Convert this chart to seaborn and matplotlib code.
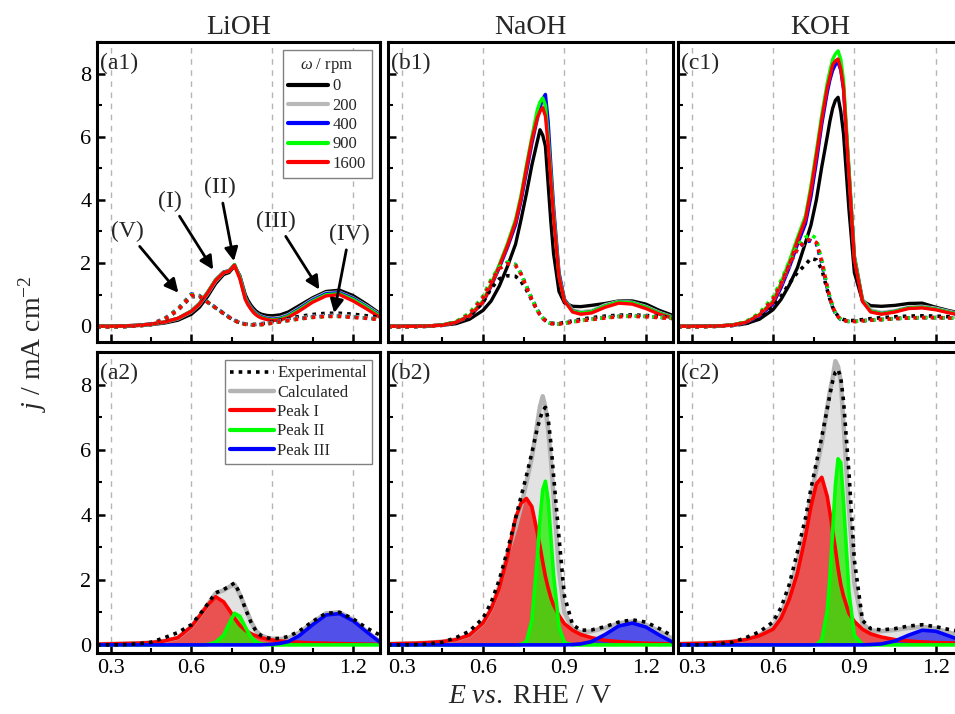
import numpy as np
import pandas as pd
import matplotlib
matplotlib.use("Agg")
from matplotlib import pyplot as plt
from matplotlib.lines import Line2D
from matplotlib.ticker import MultipleLocator, FormatStrFormatter
import seaborn as sns

# potential grid (V vs. RHE), shared by every curve
E = [0.25, 0.30, 0.35, 0.40, 0.45, 0.50, 0.55, 0.60, 0.63, 0.66, 0.69, 0.72, 0.74, 0.76, 0.78,
     0.80, 0.81, 0.82, 0.83, 0.84, 0.85, 0.86, 0.88, 0.90, 0.93, 0.96, 1.00, 1.05, 1.10, 1.15,
     1.20, 1.25, 1.30]

rpm_labels = ["0", "200", "400", "900", "1600"]
rpm_colors = ["black", "#b9b9b9", "#0000ff", "#00ff00", "#ff0000"]

# ---- LiOH, solid curves
li_0 = [0.00, 0.00, 0.00, 0.02, 0.05, 0.10, 0.19, 0.38, 0.60, 0.94, 1.35, 1.64, 1.70, 1.90, 1.60, 1.00, 0.82, 0.68, 0.57, 0.48, 0.42, 0.38, 0.34, 0.33, 0.36, 0.45, 0.65, 0.90, 1.10, 1.14, 0.97, 0.70, 0.40]
li_200 = [0.00, 0.00, 0.01, 0.03, 0.06, 0.12, 0.23, 0.45, 0.68, 1.02, 1.42, 1.69, 1.74, 1.93, 1.57, 0.92, 0.74, 0.61, 0.50, 0.42, 0.36, 0.32, 0.27, 0.25, 0.28, 0.37, 0.58, 0.86, 1.06, 1.08, 0.90, 0.65, 0.37]
li_400 = [0.00, 0.00, 0.01, 0.03, 0.07, 0.13, 0.25, 0.48, 0.72, 1.07, 1.47, 1.72, 1.76, 1.95, 1.56, 0.90, 0.72, 0.59, 0.48, 0.40, 0.34, 0.30, 0.25, 0.22, 0.25, 0.34, 0.55, 0.83, 1.03, 1.06, 0.88, 0.62, 0.34]
li_900 = [0.00, 0.00, 0.01, 0.03, 0.07, 0.13, 0.25, 0.48, 0.72, 1.07, 1.47, 1.71, 1.75, 1.95, 1.55, 0.88, 0.70, 0.57, 0.46, 0.38, 0.32, 0.28, 0.23, 0.20, 0.23, 0.32, 0.52, 0.80, 1.00, 1.03, 0.85, 0.60, 0.32]
li_1600 = [0.00, 0.00, 0.01, 0.03, 0.07, 0.13, 0.25, 0.47, 0.70, 1.05, 1.45, 1.70, 1.74, 1.93, 1.50, 0.85, 0.68, 0.55, 0.44, 0.36, 0.30, 0.26, 0.21, 0.18, 0.20, 0.28, 0.48, 0.76, 0.96, 1.00, 0.80, 0.55, 0.28]
# ---- LiOH, dotted curves
li_0_d = [-0.02, -0.02, -0.01, 0.01, 0.05, 0.20, 0.50, 0.94, 0.93, 0.76, 0.58, 0.40, 0.28, 0.18, 0.11, 0.07, 0.06, 0.06, 0.06, 0.06, 0.07, 0.08, 0.10, 0.14, 0.19, 0.24, 0.31, 0.37, 0.41, 0.41, 0.38, 0.33, 0.28]
li_200_d = [-0.02, -0.02, -0.01, 0.01, 0.06, 0.22, 0.52, 0.97, 0.95, 0.76, 0.58, 0.41, 0.29, 0.19, 0.11, 0.07, 0.06, 0.05, 0.05, 0.05, 0.06, 0.06, 0.08, 0.12, 0.16, 0.21, 0.26, 0.31, 0.34, 0.34, 0.31, 0.27, 0.23]
li_400_d = [-0.02, -0.02, -0.01, 0.01, 0.07, 0.24, 0.55, 1.02, 0.97, 0.77, 0.59, 0.41, 0.29, 0.19, 0.11, 0.07, 0.05, 0.05, 0.04, 0.05, 0.05, 0.06, 0.08, 0.11, 0.15, 0.19, 0.24, 0.29, 0.32, 0.32, 0.29, 0.26, 0.22]
li_900_d = [-0.02, -0.02, -0.01, 0.01, 0.06, 0.23, 0.54, 1.00, 0.96, 0.77, 0.58, 0.40, 0.28, 0.18, 0.10, 0.06, 0.05, 0.04, 0.04, 0.04, 0.05, 0.05, 0.07, 0.10, 0.14, 0.18, 0.23, 0.28, 0.31, 0.31, 0.29, 0.25, 0.22]
li_1600_d = [-0.02, -0.02, -0.01, 0.01, 0.06, 0.22, 0.52, 0.98, 0.95, 0.76, 0.58, 0.40, 0.28, 0.18, 0.10, 0.06, 0.05, 0.04, 0.04, 0.04, 0.04, 0.05, 0.07, 0.10, 0.14, 0.18, 0.23, 0.28, 0.31, 0.31, 0.28, 0.25, 0.21]

# ---- NaOH, solid curves
na_0 = [0.00, 0.00, 0.00, 0.01, 0.03, 0.08, 0.22, 0.50, 0.80, 1.27, 1.89, 2.60, 3.37, 4.20, 5.10, 5.85, 6.22, 6.05, 5.70, 4.50, 3.30, 2.30, 1.10, 0.74, 0.63, 0.62, 0.66, 0.72, 0.80, 0.80, 0.70, 0.50, 0.34]
na_200 = [0.00, 0.00, 0.00, 0.01, 0.04, 0.12, 0.31, 0.74, 1.26, 1.84, 2.48, 3.20, 3.95, 4.85, 5.75, 6.50, 6.85, 7.05, 7.00, 6.10, 4.80, 3.60, 1.65, 0.85, 0.52, 0.46, 0.50, 0.68, 0.79, 0.76, 0.63, 0.44, 0.29]
na_400 = [0.00, 0.00, 0.00, 0.01, 0.04, 0.12, 0.32, 0.76, 1.28, 1.86, 2.50, 3.22, 3.98, 4.90, 5.80, 6.60, 6.95, 7.20, 7.34, 6.50, 5.10, 3.80, 1.70, 0.85, 0.49, 0.42, 0.46, 0.64, 0.77, 0.74, 0.60, 0.41, 0.27]
na_900 = [0.00, 0.00, 0.00, 0.01, 0.04, 0.13, 0.34, 0.80, 1.35, 1.95, 2.62, 3.38, 4.15, 5.10, 6.00, 6.85, 7.10, 7.23, 7.00, 6.00, 4.80, 3.60, 1.60, 0.82, 0.48, 0.42, 0.46, 0.64, 0.77, 0.74, 0.60, 0.41, 0.27]
na_1600 = [0.00, 0.00, 0.00, 0.01, 0.04, 0.12, 0.32, 0.76, 1.30, 1.90, 2.55, 3.30, 4.05, 5.00, 5.90, 6.60, 6.80, 6.92, 6.65, 5.75, 4.60, 3.45, 1.55, 0.80, 0.45, 0.38, 0.42, 0.60, 0.73, 0.70, 0.56, 0.38, 0.25]
# ---- NaOH, dotted curves
na_0_d = [-0.02, -0.02, -0.01, 0.00, 0.03, 0.10, 0.32, 0.75, 1.20, 1.50, 1.60, 1.58, 1.42, 1.15, 0.82, 0.50, 0.37, 0.27, 0.19, 0.14, 0.11, 0.09, 0.09, 0.12, 0.17, 0.22, 0.27, 0.32, 0.35, 0.36, 0.34, 0.31, 0.28]
na_200_d = [-0.02, -0.02, -0.01, 0.00, 0.03, 0.12, 0.38, 0.90, 1.43, 1.84, 2.00, 1.94, 1.66, 1.26, 0.86, 0.51, 0.37, 0.26, 0.18, 0.13, 0.10, 0.08, 0.08, 0.11, 0.15, 0.19, 0.23, 0.28, 0.32, 0.33, 0.32, 0.29, 0.26]
na_400_d = [-0.02, -0.02, -0.01, 0.00, 0.04, 0.13, 0.40, 0.93, 1.46, 1.87, 2.02, 1.95, 1.67, 1.27, 0.87, 0.52, 0.37, 0.26, 0.18, 0.12, 0.09, 0.07, 0.07, 0.10, 0.14, 0.18, 0.22, 0.27, 0.31, 0.32, 0.31, 0.28, 0.25]
na_900_d = [-0.02, -0.02, -0.01, 0.00, 0.04, 0.14, 0.42, 0.95, 1.48, 1.88, 2.03, 1.95, 1.66, 1.26, 0.86, 0.51, 0.37, 0.26, 0.18, 0.12, 0.09, 0.07, 0.07, 0.10, 0.14, 0.18, 0.22, 0.27, 0.31, 0.32, 0.31, 0.28, 0.25]
na_1600_d = [-0.02, -0.02, -0.01, 0.00, 0.03, 0.12, 0.38, 0.90, 1.42, 1.82, 1.98, 1.92, 1.65, 1.25, 0.85, 0.50, 0.36, 0.25, 0.17, 0.12, 0.09, 0.07, 0.07, 0.09, 0.13, 0.17, 0.21, 0.26, 0.30, 0.31, 0.30, 0.27, 0.24]

# ---- KOH, solid curves
k_0 = [0.00, 0.00, 0.00, 0.01, 0.03, 0.08, 0.22, 0.52, 0.85, 1.30, 1.85, 2.65, 3.20, 4.00, 5.05, 6.00, 6.50, 6.90, 7.15, 7.25, 6.80, 6.10, 3.70, 1.70, 0.80, 0.65, 0.63, 0.66, 0.72, 0.73, 0.60, 0.49, 0.40]
k_200 = [0.00, 0.00, 0.00, 0.01, 0.04, 0.12, 0.34, 0.73, 1.27, 1.92, 2.65, 3.35, 4.22, 5.30, 6.48, 7.50, 7.88, 8.22, 8.38, 8.45, 8.20, 7.60, 4.95, 2.25, 0.86, 0.52, 0.44, 0.50, 0.61, 0.63, 0.57, 0.47, 0.37]
k_400 = [0.00, 0.00, 0.00, 0.01, 0.04, 0.11, 0.32, 0.70, 1.22, 1.85, 2.58, 3.25, 4.10, 5.20, 6.40, 7.40, 7.80, 8.10, 8.28, 8.36, 8.10, 7.50, 4.90, 2.20, 0.82, 0.48, 0.40, 0.47, 0.58, 0.60, 0.54, 0.44, 0.35]
k_900 = [0.00, 0.00, 0.00, 0.01, 0.04, 0.13, 0.37, 0.80, 1.38, 2.05, 2.80, 3.50, 4.45, 5.55, 6.70, 7.70, 8.10, 8.45, 8.62, 8.72, 8.45, 7.80, 5.00, 2.20, 0.82, 0.48, 0.40, 0.47, 0.58, 0.60, 0.54, 0.44, 0.35]
k_1600 = [0.00, 0.00, 0.00, 0.01, 0.04, 0.12, 0.35, 0.75, 1.30, 1.95, 2.70, 3.40, 4.30, 5.40, 6.55, 7.55, 7.90, 8.28, 8.40, 8.46, 8.15, 7.55, 4.80, 2.10, 0.78, 0.45, 0.38, 0.45, 0.56, 0.58, 0.52, 0.42, 0.33]
# ---- KOH, dotted curves
k_0_d = [-0.02, -0.02, -0.01, 0.00, 0.02, 0.08, 0.26, 0.60, 0.95, 1.35, 1.70, 1.95, 2.15, 2.10, 1.80, 1.15, 0.85, 0.60, 0.43, 0.32, 0.25, 0.21, 0.18, 0.18, 0.21, 0.24, 0.27, 0.30, 0.32, 0.33, 0.32, 0.30, 0.28]
k_200_d = [-0.02, -0.02, -0.01, 0.00, 0.03, 0.12, 0.37, 0.84, 1.33, 1.92, 2.42, 2.66, 2.72, 2.62, 2.02, 1.24, 0.90, 0.62, 0.43, 0.31, 0.23, 0.19, 0.16, 0.16, 0.18, 0.20, 0.22, 0.25, 0.27, 0.28, 0.28, 0.27, 0.26]
k_400_d = [-0.02, -0.02, -0.01, 0.00, 0.03, 0.12, 0.38, 0.86, 1.36, 1.95, 2.45, 2.68, 2.70, 2.62, 2.00, 1.22, 0.88, 0.60, 0.41, 0.29, 0.21, 0.17, 0.15, 0.15, 0.17, 0.19, 0.21, 0.24, 0.26, 0.27, 0.27, 0.26, 0.25]
k_900_d = [-0.02, -0.02, -0.01, 0.00, 0.04, 0.14, 0.42, 0.92, 1.45, 2.05, 2.55, 2.82, 2.90, 2.78, 2.10, 1.28, 0.92, 0.63, 0.43, 0.30, 0.22, 0.18, 0.15, 0.15, 0.17, 0.19, 0.21, 0.24, 0.26, 0.27, 0.27, 0.26, 0.25]
k_1600_d = [-0.02, -0.02, -0.01, 0.00, 0.03, 0.12, 0.38, 0.85, 1.35, 1.95, 2.45, 2.70, 2.75, 2.65, 2.05, 1.25, 0.90, 0.62, 0.42, 0.30, 0.22, 0.18, 0.15, 0.15, 0.17, 0.19, 0.21, 0.24, 0.26, 0.27, 0.27, 0.26, 0.25]

# ---- peak fits (bottom row)
li_exp = [0.00, 0.00, 0.01, 0.03, 0.08, 0.22, 0.38, 0.62, 0.92, 1.25, 1.60, 1.70, 1.80, 1.90, 1.58, 1.12, 0.92, 0.72, 0.56, 0.43, 0.34, 0.28, 0.22, 0.19, 0.20, 0.26, 0.42, 0.72, 0.97, 1.00, 0.80, 0.52, 0.30]
li_calc = [0.02, 0.03, 0.04, 0.05, 0.07, 0.12, 0.22, 0.56, 0.88, 1.23, 1.58, 1.68, 1.78, 1.86, 1.55, 1.15, 0.95, 0.75, 0.58, 0.44, 0.35, 0.29, 0.22, 0.19, 0.18, 0.21, 0.37, 0.69, 0.97, 1.00, 0.77, 0.42, 0.10]
li_p1 = [0.02, 0.03, 0.04, 0.05, 0.07, 0.12, 0.22, 0.56, 0.88, 1.22, 1.48, 1.32, 1.08, 0.82, 0.60, 0.45, 0.40, 0.35, 0.31, 0.28, 0.25, 0.22, 0.18, 0.15, 0.12, 0.10, 0.08, 0.06, 0.05, 0.04, 0.03, 0.02, 0.02]
li_p2 = [0, 0, 0, 0, 0, 0, 0, 0, 0, 0.01, 0.08, 0.30, 0.65, 0.97, 0.88, 0.55, 0.40, 0.27, 0.17, 0.10, 0.06, 0.03, 0.01, 0, 0, 0, 0, 0, 0, 0, 0, 0, 0]
li_p3 = [0, 0, 0, 0, 0, 0, 0, 0, 0, 0, 0, 0, 0, 0, 0, 0, 0, 0, 0, 0, 0, 0, 0.01, 0.02, 0.05, 0.10, 0.28, 0.62, 0.92, 0.96, 0.74, 0.40, 0.08]

na_exp = [0.00, 0.00, 0.01, 0.03, 0.08, 0.22, 0.42, 0.82, 1.30, 2.00, 2.90, 3.90, 4.55, 5.20, 5.90, 6.65, 6.95, 7.20, 7.30, 6.95, 6.20, 5.20, 3.30, 1.50, 0.62, 0.45, 0.46, 0.56, 0.70, 0.77, 0.70, 0.50, 0.26]
na_calc = [0.03, 0.04, 0.05, 0.07, 0.10, 0.16, 0.30, 0.67, 1.10, 1.80, 2.80, 3.60, 4.25, 5.00, 5.75, 6.80, 7.33, 7.64, 7.30, 6.60, 5.70, 4.60, 2.30, 1.00, 0.50, 0.38, 0.42, 0.52, 0.66, 0.72, 0.62, 0.42, 0.18]
na_p1 = [0.03, 0.04, 0.05, 0.07, 0.10, 0.16, 0.30, 0.67, 1.10, 1.75, 2.70, 3.90, 4.35, 4.50, 4.25, 3.45, 3.03, 2.55, 2.10, 1.75, 1.45, 1.22, 0.90, 0.65, 0.45, 0.32, 0.22, 0.14, 0.10, 0.07, 0.05, 0.04, 0.03]
na_p2 = [0, 0, 0, 0, 0, 0, 0, 0, 0, 0, 0, 0, 0.01, 0.10, 0.75, 2.65, 3.85, 4.76, 5.03, 4.45, 3.30, 2.15, 0.55, 0.07, 0, 0, 0, 0, 0, 0, 0, 0, 0]
na_p3 = [0, 0, 0, 0, 0, 0, 0, 0, 0, 0, 0, 0, 0, 0, 0, 0, 0, 0, 0, 0, 0, 0, 0, 0, 0.01, 0.03, 0.10, 0.32, 0.58, 0.67, 0.55, 0.30, 0.08]

k_exp = [0.00, 0.00, 0.01, 0.03, 0.08, 0.22, 0.40, 0.70, 1.15, 1.85, 2.85, 3.90, 4.80, 5.60, 6.40, 7.25, 7.70, 8.10, 8.38, 8.46, 8.20, 7.50, 5.30, 2.60, 0.75, 0.50, 0.46, 0.50, 0.58, 0.62, 0.56, 0.47, 0.40]
k_calc = [0.03, 0.04, 0.05, 0.07, 0.10, 0.16, 0.30, 0.56, 0.95, 1.60, 2.55, 3.60, 4.55, 5.40, 6.20, 7.30, 7.80, 8.20, 8.72, 8.55, 8.10, 6.80, 4.20, 1.90, 0.65, 0.45, 0.42, 0.46, 0.52, 0.56, 0.50, 0.38, 0.22]
k_p1 = [0.03, 0.04, 0.05, 0.07, 0.10, 0.16, 0.28, 0.48, 0.82, 1.40, 2.20, 3.35, 4.25, 4.95, 5.15, 4.56, 4.05, 3.50, 2.95, 2.35, 1.85, 1.50, 0.97, 0.72, 0.48, 0.34, 0.24, 0.16, 0.12, 0.09, 0.07, 0.06, 0.05]
k_p2 = [0, 0, 0, 0, 0, 0, 0, 0, 0, 0, 0, 0, 0, 0.01, 0.15, 1.05, 2.10, 3.50, 4.90, 5.72, 5.60, 4.40, 1.63, 0.29, 0.01, 0, 0, 0, 0, 0, 0, 0, 0]
k_p3 = [0, 0, 0, 0, 0, 0, 0, 0, 0, 0, 0, 0, 0, 0, 0, 0, 0, 0, 0, 0, 0, 0, 0, 0, 0, 0.01, 0.03, 0.12, 0.30, 0.45, 0.42, 0.27, 0.12]

electrolytes = ["LiOH", "NaOH", "KOH"]
top_solid = [[li_0, li_200, li_400, li_900, li_1600],
             [na_0, na_200, na_400, na_900, na_1600],
             [k_0, k_200, k_400, k_900, k_1600]]
top_dotted = [[li_0_d, li_200_d, li_400_d, li_900_d, li_1600_d],
              [na_0_d, na_200_d, na_400_d, na_900_d, na_1600_d],
              [k_0_d, k_200_d, k_400_d, k_900_d, k_1600_d]]
fits = [(li_exp, li_calc, li_p1, li_p2, li_p3),
        (na_exp, na_calc, na_p1, na_p2, na_p3),
        (k_exp, k_calc, k_p1, k_p2, k_p3)]

sns.set_theme(style="ticks")
plt.rcParams['font.family'] = ['Liberation Serif', 'DejaVu Serif']
plt.rcParams['mathtext.fontset'] = 'custom'
plt.rcParams['mathtext.rm'] = 'Liberation Serif'
plt.rcParams['mathtext.it'] = 'Liberation Serif:italic'

DOT = (0, (1, 1.4))

fig = plt.figure(figsize=(9.55, 7.14), dpi=100)
lefts = [0.1016, 0.4063, 0.7099]
widths = [0.2963, 0.2984, 0.2984]


def style_axes(ax, ylim, labelleft, labelbottom):
    ax.set_xlim(0.25, 1.30)
    ax.set_ylim(*ylim)
    ax.xaxis.set_major_locator(MultipleLocator(0.3))
    ax.xaxis.set_minor_locator(MultipleLocator(0.15))
    ax.xaxis.set_major_formatter(FormatStrFormatter('%.1f'))
    ax.yaxis.set_major_locator(MultipleLocator(2))
    ax.yaxis.set_minor_locator(MultipleLocator(1))
    ax.tick_params(which='major', direction='in', length=6, width=1.8, labelsize=16,
                   colors='black', labelleft=labelleft, labelbottom=labelbottom, pad=4)
    ax.tick_params(which='minor', direction='in', length=3.5, width=1.5, colors='black')
    ax.grid(axis='x', which='major', color='#b5b5b5', linestyle=(0, (4, 4)), lw=1)
    ax.set_axisbelow(True)
    for sp in ax.spines.values():
        sp.set_color('black')
        sp.set_linewidth(2.2)
    ax.set_xlabel('')
    ax.set_ylabel('')


for i, name in enumerate(electrolytes):
    # ---- top row: rotation rate series
    ax = fig.add_axes([lefts[i], 0.521, widths[i], 0.4202])
    for vals, col in zip(top_solid[i], rpm_colors):
        sns.lineplot(x=E, y=vals, color=col, lw=2.4, ax=ax, estimator=None, sort=False)
    for vals, col in zip(top_dotted[i], rpm_colors):
        sns.lineplot(x=E, y=vals, color=col, lw=2.6, ax=ax, estimator=None, sort=False,
                     linestyle=DOT)
    style_axes(ax, (-0.5, 9.0), i == 0, False)
    ax.set_title(name, fontsize=20, pad=6)
    ax.text(0.012, 0.965, f"({'abc'[i]}1)", transform=ax.transAxes, ha='left', va='top',
            fontsize=17)
    if i == 0:
        handles = [Line2D([], [], color=c, lw=3) for c in rpm_colors]
        leg = ax.legend(handles, rpm_labels, loc='upper right', title=r'$\omega$ / rpm',
                        fontsize=12, title_fontsize=12, handlelength=2.4, handletextpad=0.25,
                        labelspacing=0.2, borderaxespad=0.5, fancybox=False, framealpha=1,
                        edgecolor='#808080', borderpad=0.35)
        leg.get_frame().set_linewidth(1.0)
        notes = [("(V)", (0.552, 1.06), (0.362, 3.00)),
                 ("(I)", (0.681, 1.79), (0.521, 3.96)),
                 ("(II)", (0.758, 2.06), (0.706, 4.38)),
                 ("(III)", (1.075, 1.16), (0.915, 3.32)),
                 ("(IV)", (1.130, 0.42), (1.186, 2.90))]
        for txt, tip, pos in notes:
            ax.annotate(txt, xy=tip, xytext=pos, ha='center', va='center', fontsize=17,
                        arrowprops=dict(arrowstyle='-|>', color='black', lw=2,
                                        mutation_scale=20, shrinkA=1, shrinkB=0))

    # ---- bottom row: peak deconvolution
    ax = fig.add_axes([lefts[i], 0.0854, widths[i], 0.4216])
    exp_, calc, p1, p2, p3 = fits[i]
    ax.fill_between(E, calc, 0, color='#e2e2e2', lw=0)
    ax.fill_between(E, p1, 0, color='#ee2020', alpha=0.75, lw=0)
    ax.fill_between(E, p2, 0, color='#22ee00', alpha=0.75, lw=0)
    ax.fill_between(E, p3, 0, color='#2020ee', alpha=0.75, lw=0)
    sns.lineplot(x=E, y=calc, color='#b4b4b4', lw=3.2, ax=ax, estimator=None, sort=False)
    sns.lineplot(x=E, y=p1, color='#ff0000', lw=2.6, ax=ax, estimator=None, sort=False)
    sns.lineplot(x=E, y=p2, color='#00ff00', lw=2.6, ax=ax, estimator=None, sort=False)
    sns.lineplot(x=E, y=p3, color='#0000ff', lw=2.6, ax=ax, estimator=None, sort=False)
    sns.lineplot(x=E, y=exp_, color='black', lw=2.6, ax=ax, estimator=None, sort=False,
                 linestyle=DOT)
    style_axes(ax, (-0.25, 9.0), i == 0, True)
    ax.text(0.012, 0.965, f"({'abc'[i]}2)", transform=ax.transAxes, ha='left', va='top',
            fontsize=17)
    if i == 0:
        handles = [Line2D([], [], color='black', lw=2.6, linestyle=DOT),
                   Line2D([], [], color='#b4b4b4', lw=3.2),
                   Line2D([], [], color='#ff0000', lw=3),
                   Line2D([], [], color='#00ff00', lw=3),
                   Line2D([], [], color='#0000ff', lw=3)]
        labels = ["Experimental", "Calculated", "Peak I", "Peak II", "Peak III"]
        leg = ax.legend(handles, labels, loc='upper right', fontsize=12, handlelength=2.6,
                        handletextpad=0.2, labelspacing=0.2, borderaxespad=0.5,
                        fancybox=False, framealpha=1, edgecolor='#808080', borderpad=0.3)
        leg.get_frame().set_linewidth(1.0)

fig.text(0.034, 0.518, r'$\mathit{j}$ / mA cm$^{-2}$', rotation=90, ha='center',
         va='center', fontsize=20)
fig.text(0.555, 0.025, r'$\mathit{E\ vs.}$ RHE / V', ha='center', va='center', fontsize=20)

fig.savefig("out.png", dpi=100)
